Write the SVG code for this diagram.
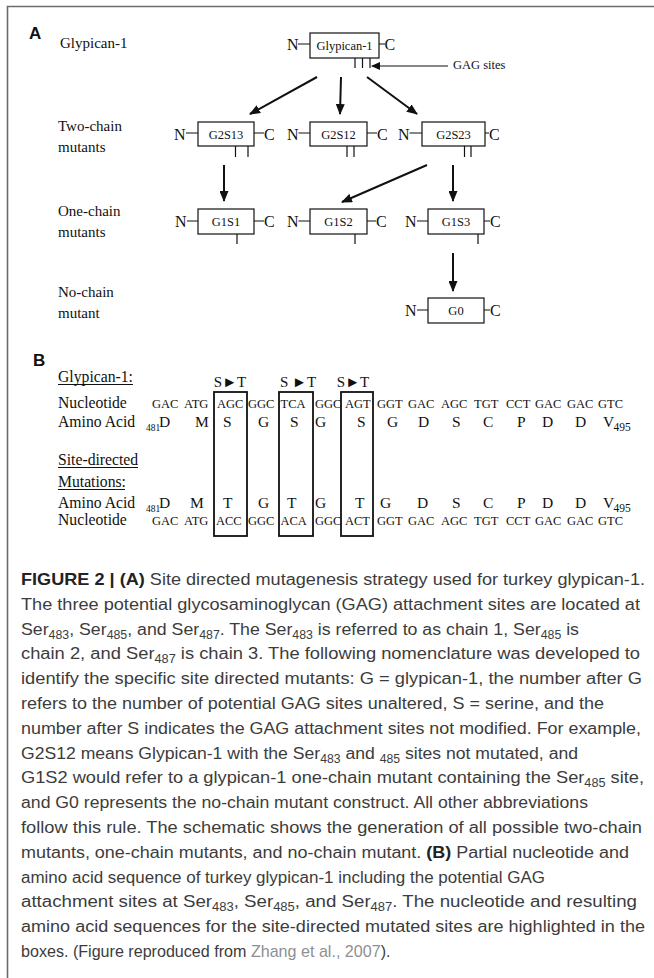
<svg xmlns="http://www.w3.org/2000/svg" width="654" height="978" viewBox="0 0 654 978">
<style>
.ser{font-family:"Liberation Serif","Times New Roman",serif;fill:#111}
.lbl{font-size:15px}
.bt{font-size:12.5px;text-anchor:middle}
.nc{font-size:16px}
.box{fill:#fff;stroke:#111;stroke-width:1.2}
.ln{stroke:#111;stroke-width:1.2;fill:none}
.arr{stroke:#111;stroke-width:2;fill:none;marker-end:url(#ah)}
.cod{font-size:12.5px}
.aa{font-size:15.5px}
.sub{font-size:9.5px}
.seqlbl{font-size:15.7px}
.mbox{fill:none;stroke:#111;stroke-width:1.8}
.cap{font-family:"Liberation Sans",Arial,sans-serif;font-size:17.3px;fill:#3c3c3c}
.b{font-weight:bold;fill:#222}
.hd{font-family:"Liberation Sans",Arial,sans-serif;font-size:17px;font-weight:bold;fill:#111}
</style>
<defs>
<marker id="ah" markerUnits="userSpaceOnUse" markerWidth="11" markerHeight="9" refX="10" refY="4.5" orient="auto">
<path d="M0,0 L11,4.5 L0,9 z" fill="#111"/>
</marker>
<marker id="ah2" markerUnits="userSpaceOnUse" markerWidth="9" markerHeight="8" refX="8" refY="4" orient="auto">
<path d="M0,0 L9,4 L0,8 z" fill="#111"/>
</marker>
</defs>
<rect width="654" height="978" fill="#fff"/>
<path d="M654,6.5 H7.5 V978" fill="none" stroke="#6b6b6b" stroke-width="1.6"/>

<text class="hd" x="29" y="39">A</text>
<text class="hd" x="33" y="366">B</text>

<g id="row-labels" class="ser lbl">
<text x="60" y="48">Glypican-1</text>
<text x="58" y="131">Two-chain</text>
<text x="58" y="152">mutants</text>
<text x="58" y="216">One-chain</text>
<text x="58" y="237">mutants</text>
<text x="58" y="297">No-chain</text>
<text x="58" y="318">mutant</text>
</g>

<g id="node-glypican-1" class="ser">
<rect class="box" x="310" y="33" width="69" height="25"/>
<text class="bt" x="344.5" y="50">Glypican-1</text>
<text class="nc" x="287" y="50">N</text>
<text class="nc" x="384.5" y="50">C</text>
<path class="ln" d="M298,44 H310 M379,44 H385 M355,58 V68 M362.5,58 V68 M370,58 V68"/>
<text x="453" y="69" style="font-size:12.5px">GAG sites</text>
</g>

<g id="node-G2S13" class="ser">
<rect class="box" x="198" y="122" width="56" height="24"/>
<text class="bt" x="226" y="138.5">G2S13</text>
<text class="nc" x="174" y="139.5">N</text>
<text class="nc" x="264" y="139.5">C</text>
<path class="ln" d="M186,133 H198 M254,133 H264 M235.5,146 V157 M248,146 V157"/>
</g>
<g id="node-G2S12" class="ser">
<rect class="box" x="310" y="122" width="57" height="24"/>
<text class="bt" x="338.5" y="138.5">G2S12</text>
<text class="nc" x="287" y="139.5">N</text>
<text class="nc" x="377" y="139.5">C</text>
<path class="ln" d="M298.5,133 H310 M367,133 H377 M347,146 V157 M354,146 V157"/>
</g>
<g id="node-G2S23" class="ser">
<rect class="box" x="422" y="122" width="63" height="24"/>
<text class="bt" x="453.5" y="138.5">G2S23</text>
<text class="nc" x="398" y="139.5">N</text>
<text class="nc" x="489" y="139.5">C</text>
<path class="ln" d="M409.5,133 H422 M485,133 H489 M464.5,146 V157 M471,146 V157"/>
</g>

<g id="node-G1S1" class="ser">
<rect class="box" x="198" y="209" width="56" height="25"/>
<text class="bt" x="226" y="226">G1S1</text>
<text class="nc" x="175" y="227">N</text>
<text class="nc" x="264" y="227">C</text>
<path class="ln" d="M187,221 H198 M254,221 H264 M237,234 V244"/>
</g>
<g id="node-G1S2" class="ser">
<rect class="box" x="310" y="209" width="57" height="25"/>
<text class="bt" x="338.5" y="226">G1S2</text>
<text class="nc" x="287" y="227">N</text>
<text class="nc" x="376" y="227">C</text>
<path class="ln" d="M298.5,221 H310 M367,221 H376 M355,234 V244"/>
</g>
<g id="node-G1S3" class="ser">
<rect class="box" x="428" y="209" width="56" height="25"/>
<text class="bt" x="456" y="226">G1S3</text>
<text class="nc" x="405" y="227">N</text>
<text class="nc" x="490" y="227">C</text>
<path class="ln" d="M417,221 H428 M484,221 H490 M478,234 V244"/>
</g>

<g id="node-G0" class="ser">
<rect class="box" x="428" y="298" width="56" height="25"/>
<text class="bt" x="456" y="315">G0</text>
<text class="nc" x="405" y="316">N</text>
<text class="nc" x="490" y="316">C</text>
<path class="ln" d="M417,310 H428 M484,310 H490"/>
</g>

<g id="connectors">
<line class="arr" x1="317" y1="77" x2="250" y2="114"/>
<line class="arr" x1="341" y1="77" x2="340" y2="114"/>
<line class="arr" x1="367" y1="77" x2="417" y2="114"/>
<line class="arr" x1="224" y1="165" x2="224" y2="201"/>
<line class="arr" x1="427" y1="165" x2="342" y2="202"/>
<line class="arr" x1="453" y1="165" x2="453" y2="201"/>
<line class="arr" x1="453" y1="253" x2="453" y2="291"/>
<line x1="448" y1="66" x2="372" y2="66" stroke="#111" stroke-width="1.2" marker-end="url(#ah2)"/>
</g>

<g id="sequence" class="ser">
<text class="seqlbl" x="58" y="382">Glypican-1:</text>
<line x1="58" y1="384.5" x2="133" y2="384.5" stroke="#111" stroke-width="1"/>
<g style="font-size:15px;text-anchor:middle">
<text x="230" y="387">S►T</text>
<text x="298" y="387">S ►T</text>
<text x="353" y="387">S►T</text>
</g>
<text class="seqlbl" x="58" y="408">Nucleotide</text>
<g class="cod">
<text x="152" y="408">GAC</text><text x="184" y="408">ATG</text><text x="217" y="408">AGC</text><text x="248" y="408">GGC</text><text x="280.5" y="408">TCA</text><text x="315" y="408">GGC</text><text x="345" y="408">AGT</text><text x="377" y="408">GGT</text><text x="408" y="408">GAC</text><text x="441" y="408">AGC</text><text x="474" y="408">TGT</text><text x="506" y="408">CCT</text><text x="535" y="408">GAC</text><text x="567" y="408">GAC</text><text x="598" y="408">GTC</text>
</g>
<text class="seqlbl" x="58" y="427">Amino Acid</text>
<g class="aa">
<text class="sub" x="146" y="430.5">481</text>
<text x="159" y="427">D</text><text x="195" y="427">M</text><text x="223" y="427">S</text><text x="258" y="427">G</text><text x="290" y="427">S</text><text x="315" y="427">G</text><text x="357" y="427">S</text><text x="387" y="427">G</text><text x="418" y="427">D</text><text x="452" y="427">S</text><text x="483" y="427">C</text><text x="517" y="427">P</text><text x="542" y="427">D</text><text x="575" y="427">D</text><text x="603" y="427">V</text>
<text x="613.5" y="431" style="font-size:11.5px">495</text>
</g>
<text class="seqlbl" x="58" y="465">Site-directed</text>
<line x1="58" y1="467.5" x2="138" y2="467.5" stroke="#111" stroke-width="1"/>
<text class="seqlbl" x="58" y="487">Mutations:</text>
<line x1="58" y1="489.5" x2="125" y2="489.5" stroke="#111" stroke-width="1"/>
<text class="seqlbl" x="58" y="508">Amino Acid</text>
<g class="aa">
<text class="sub" x="146" y="511.5">481</text>
<text x="159" y="508">D</text><text x="190" y="508">M</text><text x="223" y="508">T</text><text x="258" y="508">G</text><text x="287" y="508">T</text><text x="315" y="508">G</text><text x="355" y="508">T</text><text x="380" y="508">G</text><text x="417" y="508">D</text><text x="452" y="508">S</text><text x="483" y="508">C</text><text x="517" y="508">P</text><text x="542" y="508">D</text><text x="575" y="508">D</text><text x="603" y="508">V</text>
<text x="613.5" y="512" style="font-size:11.5px">495</text>
</g>
<text class="seqlbl" x="58" y="525">Nucleotide</text>
<g class="cod">
<text x="152" y="525">GAC</text><text x="184" y="525">ATG</text><text x="216" y="525">ACC</text><text x="248" y="525">GGC</text><text x="280.5" y="525">ACA</text><text x="315" y="525">GGC</text><text x="345" y="525">ACT</text><text x="377" y="525">GGT</text><text x="408" y="525">GAC</text><text x="441" y="525">AGC</text><text x="474" y="525">TGT</text><text x="506" y="525">CCT</text><text x="535" y="525">GAC</text><text x="567" y="525">GAC</text><text x="598" y="525">GTC</text>
</g>
<rect class="mbox" x="214" y="392" width="33" height="144"/>
<rect class="mbox" x="279" y="392" width="34" height="144"/>
<rect class="mbox" x="341" y="392" width="32" height="144"/>
</g>

<g id="caption" class="cap">
<text x="21" y="585" textLength="624" lengthAdjust="spacingAndGlyphs"><tspan class="b">FIGURE 2 | (A)</tspan> Site directed mutagenesis strategy used for turkey glypican-1.</text>
<text x="21" y="609.8" textLength="619" lengthAdjust="spacingAndGlyphs">The three potential glycosaminoglycan (GAG) attachment sites are located at</text>
<text x="21" y="634.6" textLength="558" lengthAdjust="spacingAndGlyphs">Ser<tspan dy="4" font-size="12">483</tspan><tspan dy="-4">, Ser</tspan><tspan dy="4" font-size="12">485</tspan><tspan dy="-4">, and Ser</tspan><tspan dy="4" font-size="12">487</tspan><tspan dy="-4">. The Ser</tspan><tspan dy="4" font-size="12">483</tspan><tspan dy="-4"> is referred to as chain 1, Ser</tspan><tspan dy="4" font-size="12">485</tspan><tspan dy="-4"> is</tspan></text>
<text x="21" y="659.4" textLength="619" lengthAdjust="spacingAndGlyphs">chain 2, and Ser<tspan dy="4" font-size="12">487</tspan><tspan dy="-4"> is chain 3. The following nomenclature was developed to</tspan></text>
<text x="21" y="684.2" textLength="621" lengthAdjust="spacingAndGlyphs">identify the specific site directed mutants: G = glypican-1, the number after G</text>
<text x="21" y="709" textLength="583" lengthAdjust="spacingAndGlyphs">refers to the number of potential GAG sites unaltered, S = serine, and the</text>
<text x="21" y="733.8" textLength="620" lengthAdjust="spacingAndGlyphs">number after S indicates the GAG attachment sites not modified. For example,</text>
<text x="21" y="758.6" textLength="557" lengthAdjust="spacingAndGlyphs">G2S12 means Glypican-1 with the Ser<tspan dy="4" font-size="12">483</tspan><tspan dy="-4"> and </tspan><tspan dy="4" font-size="12">485</tspan><tspan dy="-4"> sites not mutated, and</tspan></text>
<text x="21" y="783.4" textLength="623" lengthAdjust="spacingAndGlyphs">G1S2 would refer to a glypican-1 one-chain mutant containing the Ser<tspan dy="4" font-size="12">485</tspan><tspan dy="-4"> site,</tspan></text>
<text x="21" y="808.2" textLength="567" lengthAdjust="spacingAndGlyphs">and G0 represents the no-chain mutant construct. All other abbreviations</text>
<text x="21" y="833" textLength="621" lengthAdjust="spacingAndGlyphs">follow this rule. The schematic shows the generation of all possible two-chain</text>
<text x="21" y="857.8" textLength="608" lengthAdjust="spacingAndGlyphs">mutants, one-chain mutants, and no-chain mutant. <tspan class="b">(B)</tspan> Partial nucleotide and</text>
<text x="21" y="882.6" textLength="524" lengthAdjust="spacingAndGlyphs">amino acid sequence of turkey glypican-1 including the potential GAG</text>
<text x="21" y="907.4" textLength="616" lengthAdjust="spacingAndGlyphs">attachment sites at Ser<tspan dy="4" font-size="12">483</tspan><tspan dy="-4">, Ser</tspan><tspan dy="4" font-size="12">485</tspan><tspan dy="-4">, and Ser</tspan><tspan dy="4" font-size="12">487</tspan><tspan dy="-4">. The nucleotide and resulting</tspan></text>
<text x="21" y="932.2" textLength="624" lengthAdjust="spacingAndGlyphs">amino acid sequences for the site-directed mutated sites are highlighted in the</text>
<text x="21" y="957" style="font-size:16.1px">boxes. (Figure reproduced from <tspan fill="#8f8f8f">Zhang et al., 2007</tspan>).</text>
</g>
</svg>
